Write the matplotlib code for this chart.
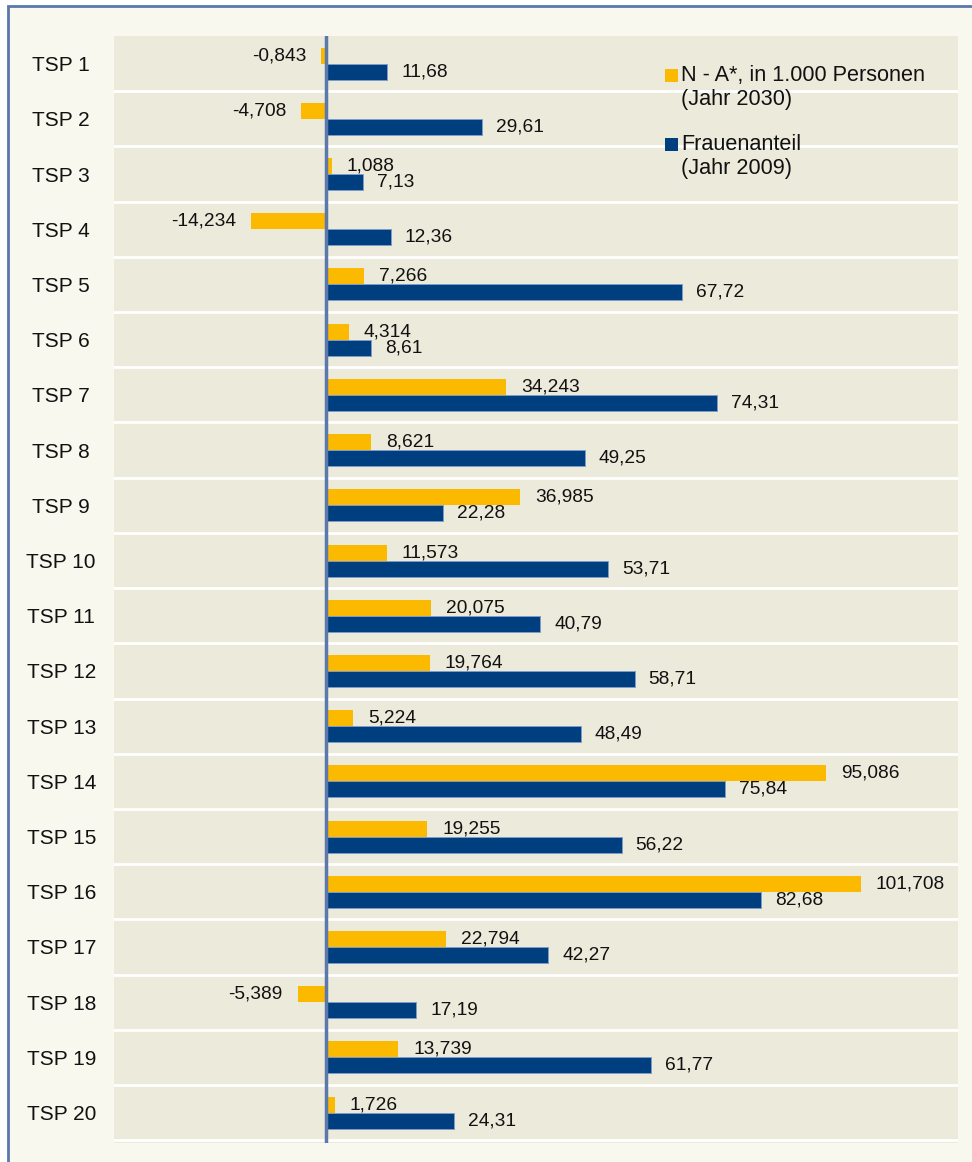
import matplotlib.pyplot as plt
from matplotlib.patches import Rectangle
import numpy as np

plt.rcParams['font.family'] = ['Liberation Sans', 'DejaVu Sans']

categories = [f'TSP {i}' for i in range(1, 21)]
n_minus_a = [-0.843, -4.708, 1.088, -14.234, 7.266, 4.314, 34.243, 8.621, 36.985, 11.573,
             20.075, 19.764, 5.224, 95.086, 19.255, 101.708, 22.794, -5.389, 13.739, 1.726]
frauenanteil = [11.68, 29.61, 7.13, 12.36, 67.72, 8.61, 74.31, 49.25, 22.28, 53.71,
                40.79, 58.71, 48.49, 75.84, 56.22, 82.68, 42.27, 17.19, 61.77, 24.31]
legend_lines = [['N - A*, in 1.000 Personen', '(Jahr 2030)'],
                ['Frauenanteil', '(Jahr 2009)']]

YELLOW = '#FBBA00'
BLUE = '#003F7F'
LINE = '#5A78AC'
TEXT = '#111111'

fig = plt.figure(figsize=(9.72, 11.62), dpi=100, facecolor='white')
fig.patches.append(Rectangle((8 / 972, -0.02), 1.05, 1 - 6 / 1162 + 0.02, transform=fig.transFigure,
                             facecolor='#F8F8EE', edgecolor=LINE, linewidth=2, zorder=-5))

ax = fig.add_axes([114 / 972, 1 - 1143 / 1162, 844 / 972, 1107 / 1162])
ax.set_facecolor('#ECEADB')

y = np.arange(len(categories))
h = 0.29
ax.barh(y - h / 2, n_minus_a, height=h, color=YELLOW, zorder=2)
ax.barh(y + h / 2, frauenanteil, height=h, color=BLUE, edgecolor='#7F9CC8', linewidth=0.7, zorder=2)

for yi, v in zip(y, n_minus_a):
  txt = f'{v:.3f}'.replace('.', ',')
  off = 15 if v >= 0 else -15
  ax.annotate(txt, (v, yi - h / 2), xytext=(off, 0), textcoords='offset pixels',
              ha='left' if v >= 0 else 'right', va='center', fontsize=13.75, color=TEXT, zorder=4)
for yi, v in zip(y, frauenanteil):
  txt = f'{v:.2f}'.replace('.', ',')
  ax.annotate(txt, (v, yi + h / 2), xytext=(14, 0), textcoords='offset pixels',
              ha='left', va='center', fontsize=13.75, color=TEXT, zorder=4)

ax.axvline(0, color=LINE, linewidth=2.5, zorder=3)

ax.set_xlim(-40.3, 120.2)
ax.set_ylim(len(categories) - 0.5 + 0.05, -0.5)
ax.set_xticks([])
ax.set_yticks(y, categories)
ax.set_yticks(y + 0.5, minor=True)
ax.tick_params(axis='y', which='both', length=0, pad=38, labelsize=15, labelcolor=TEXT)
for lbl in ax.get_yticklabels():
  lbl.set_horizontalalignment('center')
ax.grid(which='minor', axis='y', color='white', linewidth=2, zorder=1)
ax.set_axisbelow(True)
for s in ax.spines.values():
  s.set_visible(False)

# legend drawn by hand: square beside first line of each two-line label
for color, lines, top in [(YELLOW, legend_lines[0], 75), (BLUE, legend_lines[1], 144)]:
  ax.add_patch(Rectangle(((665 - 114) / 844, (1143 - top - 6.5) / 1107), 13 / 844, 13 / 1107,
                         transform=ax.transAxes, facecolor=color, edgecolor='none', zorder=5))
  for k, line in enumerate(lines):
    ax.text((681 - 114) / 844, (1143 - top - 24.5 * k) / 1107, line, transform=ax.transAxes,
            ha='left', va='center', fontsize=15.6, color=TEXT, zorder=5)

fig.savefig('out.png', dpi=100, facecolor=fig.get_facecolor())
